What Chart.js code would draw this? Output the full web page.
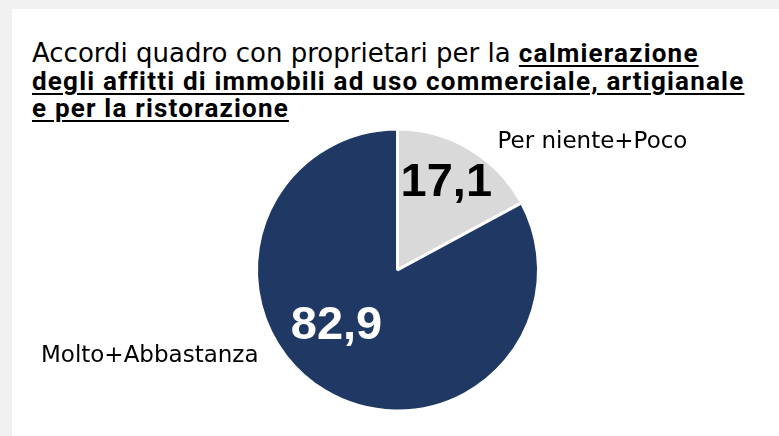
<!DOCTYPE html>
<html>
<head>
<meta charset="utf-8">
<script src="https://cdn.jsdelivr.net/npm/chart.js@4/dist/chart.umd.min.js"></script>
<style>
  body { margin: 0; }
  #wrap { position: relative; width: 779px; height: 436px; background: #f1f1f1; overflow: hidden; }
  #panel { position: absolute; left: 12px; top: 9px; right: 0; bottom: 0; background: #fff; }
  #title {
    position: absolute; left: 32px; top: 40px;
    font-family: "DejaVu Sans", sans-serif; font-size: 26px; line-height: 27.5px;
    color: #000; white-space: nowrap;
  }
  #title b { font-family: Roboto, sans-serif; font-size: 26px; letter-spacing: 1.2px; text-decoration: underline; text-decoration-thickness: 2px; text-underline-offset: 3px; }
  canvas { position: absolute; left: 0; top: 0; }
</style>
</head>
<body>
<div id="wrap">
  <div id="panel"></div>
  <div id="title">Accordi quadro con proprietari per la <b>calmierazione</b><br><b>degli affitti di immobili ad uso commerciale, artigianale</b><br><b>e per la ristorazione</b></div>
  <canvas id="pie" width="779" height="436"></canvas>
</div>
<script>
// Chart data
const categories = ["Per niente+Poco", "Molto+Abbastanza"];
const values = [17.1, 82.9];
const colors = ["#d9d9d9", "#203864"];
const valueColors = ["#000000", "#ffffff"];

// Label placement (angle offset in degrees from slice middle, distance as fraction of radius)
const valuePlacement = [{ da: -1.6, f: 0.71 }, { da: 16.4, f: 0.59 }];

const fmt = v => v.toFixed(1).replace(".", ",");

const labelPlugin = {
    id: "pieLabels",
    afterDatasetsDraw(chart) {
        const ctx = chart.ctx;
        const arcs = chart.getDatasetMeta(0).data;
        ctx.save();
        arcs.forEach((arc, i) => {
            const { x, y, startAngle, endAngle, outerRadius } = arc.getProps(["x", "y", "startAngle", "endAngle", "outerRadius"], true);
            const mid = (startAngle + endAngle) / 2 + valuePlacement[i].da * Math.PI / 180;
            const d = outerRadius * valuePlacement[i].f;
            ctx.font = "bold 47px 'Liberation Sans', sans-serif";
            ctx.fillStyle = valueColors[i];
            ctx.textAlign = "center";
            ctx.textBaseline = "middle";
            ctx.fillText(fmt(values[i]), x + Math.cos(mid) * d, y + Math.sin(mid) * d);
        });
        // category labels outside the pie
        const a0 = arcs[0].getProps(["x", "y", "outerRadius"], true);
        ctx.font = "23px 'DejaVu Sans', sans-serif";
        ctx.fillStyle = "#000";
        ctx.textBaseline = "middle";
        ctx.textAlign = "left";
        ctx.fillText(categories[0], a0.x + 100, a0.y - a0.outerRadius + 13);
        ctx.textAlign = "right";
        ctx.fillText(categories[1], a0.x - 139, a0.y + 86);
        ctx.restore();
    }
};

new Chart(document.getElementById("pie"), {
    type: "pie",
    data: {
        labels: categories,
        datasets: [{
            data: values,
            backgroundColor: colors,
            borderColor: "#ffffff",
            borderWidth: 3
        }]
    },
    options: {
        responsive: false,
        animation: false,
        layout: { padding: { left: 255, right: 239, top: 127, bottom: 23 } },
        plugins: {
            legend: { display: false },
            tooltip: { enabled: false }
        }
    },
    plugins: [labelPlugin]
});
</script>
</body>
</html>
